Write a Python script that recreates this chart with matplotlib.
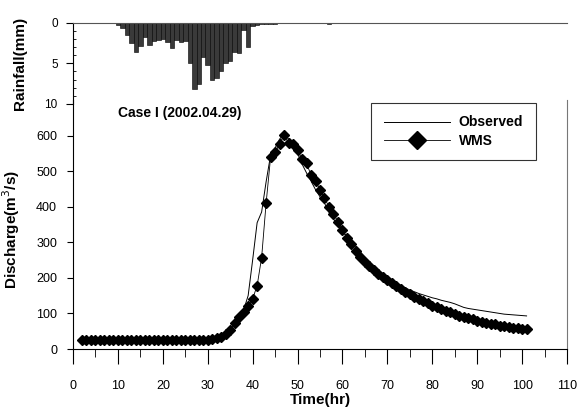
import numpy as np
import matplotlib
matplotlib.use("Agg")
import matplotlib.pyplot as plt
from matplotlib.ticker import MultipleLocator

plt.rcParams['font.family'] = ['Liberation Sans', 'DejaVu Sans']

# 강우 (mm), 1시간 간격
rain_hr = [10, 11, 12, 13, 14, 15, 16, 17, 18, 19, 20, 21, 22, 23, 24, 25, 26, 27, 28, 29,
           30, 31, 32, 33, 34, 35, 36, 37, 38, 39, 40, 41, 42, 43, 44, 45, 57, 64]
rain_mm = [0.3, 0.7, 1.5, 2.5, 3.6, 2.9, 1.75, 2.7, 2.2, 2.1, 2.0, 2.4, 3.1, 2.1, 2.4, 2.25,
           5.0, 8.1, 7.6, 4.25, 5.2, 7.1, 6.75, 5.9, 5.0, 4.7, 3.6, 3.75, 0.9, 3.0, 0.4,
           0.3, 0.2, 0.2, 0.1, 0.1, 0.1, 0.05]

# 유량 (m3/s), 2~101 hr
time_hr = list(range(2, 102))
obs_q = [22] * 32 + [35, 50, 70, 88, 110, 150, 250, 355, 385, 470, 545, 565, 590, 605,
                     590, 572, 550, 520, 495, 472, 448, 428, 410, 385, 365, 348, 330, 316,
                     300, 285, 272, 258, 245, 233, 222, 212, 203, 194, 186, 179, 172, 166,
                     161, 156, 152, 148, 144, 141, 137, 134, 131, 127, 122, 117, 114, 112,
                     110, 108, 106, 104, 102, 100, 98, 97, 96, 95, 94, 93]
wms_q = [25] * 29 + [27, 30, 33, 42, 53, 74, 91, 105, 121, 141, 178, 257, 410, 539, 553,
                     576, 602, 579, 577, 560, 533, 522, 489, 473, 447, 424, 400, 380, 358,
                     335, 313, 295, 276, 258, 245, 233, 222, 212, 203, 194, 185, 177, 169,
                     161, 154, 147, 140, 134, 128, 122, 117, 112, 107, 103, 98, 94, 90,
                     86, 83, 80, 77, 74, 71, 69, 66, 64, 62, 60, 58, 56, 55]

W, H = 579, 412
fig = plt.figure(figsize=(W / 100, H / 100), dpi=100)

x0, x1 = 73 / W, 567 / W
ax = fig.add_axes([x0, 1 - 349 / H, x1 - x0, (349 - 100) / H])
axr = fig.add_axes([x0, 1 - 104 / H, x1 - x0, (104 - 22.7) / H])

# ---- rainfall ----
axr.bar(rain_hr, rain_mm, width=1.0, color='#3a3a3a', edgecolor='black', linewidth=0.4)
axr.set_xlim(0, 110)
axr.set_ylim(10, 0)
axr.set_xticks([])
axr.set_yticks([0, 5, 10])
axr.yaxis.set_minor_locator(MultipleLocator(1))
axr.tick_params(axis='y', which='major', direction='out', length=5, labelsize=8.5, pad=6)
axr.tick_params(axis='y', which='minor', direction='in', length=2.5)
for s in ['right', 'bottom']:
    axr.spines[s].set_visible(False)
axr.spines['top'].set_color('#555555')
axr.spines['top'].set_linewidth(0.8)
axr.spines['left'].set_linewidth(0.8)
axr.patch.set_alpha(0)
axr.set_ylabel('Rainfall(mm)', fontsize=11, fontweight='bold')
axr.yaxis.set_label_coords(-0.093, 0.5)

# ---- discharge ----
ax.plot(time_hr, obs_q, color='black', linewidth=0.7, label='Observed')
ax.plot(time_hr, wms_q, color='black', linewidth=0.6, marker='D', markersize=4.8,
        label='WMS')
ax.set_xlim(0, 110)
ax.set_ylim(0, 700)
ax.set_xticks(range(0, 111, 10))
ax.xaxis.set_minor_locator(MultipleLocator(5))
ax.set_yticks(range(0, 601, 100))
ax.tick_params(axis='x', which='major', direction='out', length=11, labelsize=9, pad=11)
ax.tick_params(axis='x', which='minor', direction='out', length=5.5)
ax.tick_params(axis='y', which='major', direction='out', length=4.5, labelsize=9, pad=7)
ax.spines['top'].set_visible(False)
ax.spines['right'].set_color('#777777')
ax.spines['right'].set_linewidth(0.8)
ax.spines['left'].set_linewidth(0.8)
ax.spines['bottom'].set_linewidth(0.8)
ax.patch.set_alpha(0)
ax.set_xlabel('Time(hr)', fontsize=11, fontweight='bold', labelpad=1)
ax.set_ylabel('Discharge(m$^3$/s)', fontsize=11, fontweight='bold')
ax.yaxis.set_label_coords(-0.103, 0.48)

ax.text(118 / W, 1 - 113 / H, 'Case I (2002.04.29)', transform=fig.transFigure,
        fontsize=10, fontweight='bold', va='center', ha='left')

leg = ax.legend(loc='upper left', bbox_to_anchor=(371 / W, 1 - 103 / H),
                bbox_transform=fig.transFigure, borderaxespad=0, fancybox=False,
                frameon=True, edgecolor='black', handlelength=4.8, markerscale=2.0,
                prop={'weight': 'bold', 'size': 10}, borderpad=0.9, handletextpad=0.6,
                labelspacing=0.3)
leg.get_frame().set_linewidth(0.8)

fig.savefig('out.png', dpi=100)
